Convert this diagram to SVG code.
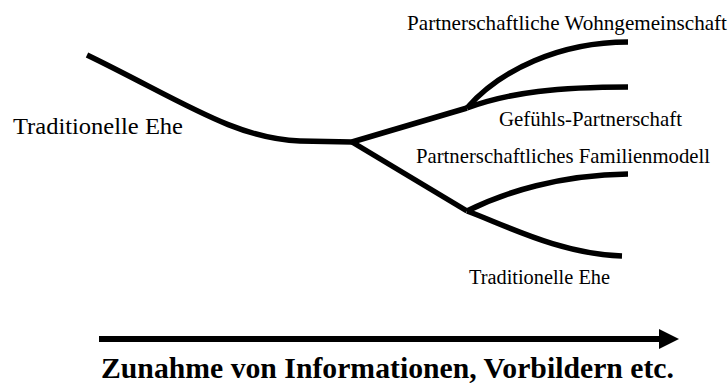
<svg xmlns="http://www.w3.org/2000/svg" width="728" height="383" viewBox="0 0 728 383">
<style>
text{font-family:"Liberation Serif","Times New Roman","DejaVu Serif",serif;fill:#000;font-weight:normal}
.lbl{font-size:21px}
.big{font-size:29px;font-weight:bold}
.br{fill:none;stroke:#000;stroke-width:5.5;stroke-linejoin:round}
</style>
<rect width="728" height="383" fill="#fff"/>
<g id="connectors">
<path class="br" d="M87,55 C180,100 235,139 300,141 L352,142"/>
<path class="br" d="M352,142 L467,108"/>
<path class="br" d="M352,142 L467,211"/>
<path class="br" d="M467,108 C500,70 560,42 628,42"/>
<path class="br" d="M467,108 C510,92 560,87 628,87"/>
<path class="br" d="M467,211 C505,192 560,175 628,174"/>
<path class="br" d="M467,211 C505,225 560,254 622,256"/>
</g>
<g id="node-traditionelle-ehe-start">
<text x="13" y="134" style="font-size:24px" textLength="170" lengthAdjust="spacingAndGlyphs">Traditionelle Ehe</text>
</g>
<g id="node-wohngemeinschaft">
<text class="lbl" x="407" y="30" textLength="320" lengthAdjust="spacingAndGlyphs">Partnerschaftliche Wohngemeinschaft</text>
</g>
<g id="node-gefuehls">
<text class="lbl" x="499" y="126" textLength="183" lengthAdjust="spacingAndGlyphs">Gefühls-Partnerschaft</text>
</g>
<g id="node-familienmodell">
<text class="lbl" x="416" y="163" textLength="294" lengthAdjust="spacingAndGlyphs">Partnerschaftliches Familienmodell</text>
</g>
<g id="node-traditionelle-ehe-end">
<text x="469" y="284" style="font-size:20px" textLength="141" lengthAdjust="spacingAndGlyphs">Traditionelle Ehe</text>
</g>
<g id="axis">
<line x1="99" y1="339" x2="662" y2="339" stroke="#000" stroke-width="6"/>
<polygon points="659,329 679,339 659,349" fill="#000"/>
<text class="big" x="101" y="378" textLength="573" lengthAdjust="spacingAndGlyphs">Zunahme von Informationen, Vorbildern etc.</text>
</g>
</svg>
